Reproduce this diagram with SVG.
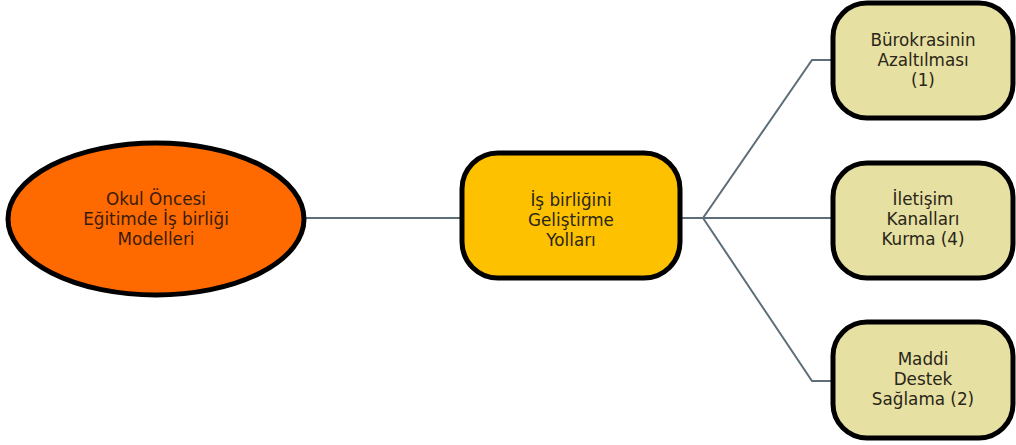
<svg xmlns="http://www.w3.org/2000/svg" width="1016" height="445" viewBox="0 0 1016 445">
<style>
.node{stroke:#000;stroke-width:5}
.t{font-family:"DejaVu Sans",Verdana,sans-serif;font-size:16.8px;text-anchor:middle;fill:#2a2618}
.conn{fill:none;stroke:#5d6e78;stroke-width:2}
</style>
<rect width="1016" height="445" fill="#fff"/>
<g id="connectors">
<line class="conn" x1="305" y1="218" x2="462" y2="218"/>
<path class="conn" d="M680 218 H703 L812 60 H832"/>
<path class="conn" d="M703 218 H832"/>
<path class="conn" d="M703 218 L812 381 H832"/>
</g>
<g id="root">
<ellipse class="node" cx="156" cy="219" rx="148" ry="76" fill="#ff6a00"/>
<text class="t" style="fill:#3a1c0c"><tspan x="156" y="205">Okul Öncesi</tspan><tspan x="156" y="225">Eğitimde İş birliği</tspan><tspan x="156" y="245">Modelleri</tspan></text>
</g>
<g id="mid">
<rect class="node" x="462" y="153" width="218" height="125" rx="36" fill="#fdc100"/>
<text class="t"><tspan x="571" y="206">İş birliğini</tspan><tspan x="571" y="226">Geliştirme</tspan><tspan x="571" y="246">Yolları</tspan></text>
</g>
<g id="n1">
<rect class="node" x="833" y="3" width="180" height="115" rx="34" fill="#e6e0a2"/>
<text class="t"><tspan x="923" y="46">Bürokrasinin</tspan><tspan x="923" y="66">Azaltılması</tspan><tspan x="923" y="86">(1)</tspan></text>
</g>
<g id="n2">
<rect class="node" x="833" y="163" width="180" height="115" rx="34" fill="#e6e0a2"/>
<text class="t"><tspan x="923" y="205">İletişim</tspan><tspan x="923" y="225">Kanalları</tspan><tspan x="923" y="245">Kurma (4)</tspan></text>
</g>
<g id="n3">
<rect class="node" x="833" y="322" width="180" height="116" rx="34" fill="#e6e0a2"/>
<text class="t"><tspan x="923" y="365">Maddi</tspan><tspan x="923" y="385">Destek</tspan><tspan x="923" y="405">Sağlama (2)</tspan></text>
</g>
</svg>
